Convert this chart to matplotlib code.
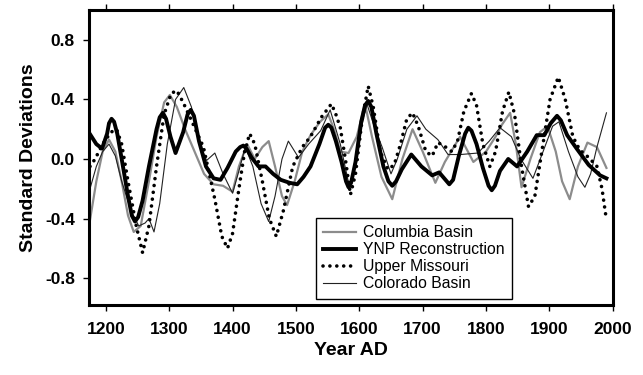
import matplotlib
matplotlib.use("Agg")
import matplotlib.pyplot as plt

plt.rcParams['font.family'] = ['Liberation Sans', 'DejaVu Sans']

# YNP reconstruction (thick black)
ynp_year = [1173, 1185, 1194, 1202, 1205, 1209, 1213, 1218, 1225, 1235, 1241, 1246,
            1251, 1258, 1268, 1280, 1285, 1290, 1295, 1302, 1310, 1322, 1329, 1334,
            1339, 1347, 1358, 1370, 1381, 1392, 1405, 1412, 1417, 1422, 1430, 1441,
            1452, 1464, 1476, 1490, 1502, 1512, 1523, 1537, 1546, 1551, 1556, 1563,
            1572, 1579, 1583, 1587, 1594, 1603, 1609, 1614, 1619, 1627, 1638, 1646,
            1652, 1658, 1667, 1682, 1698, 1715, 1726, 1736, 1742, 1748, 1757, 1767,
            1772, 1777, 1785, 1795, 1804, 1809, 1814, 1822, 1835, 1849, 1865, 1880,
            1892, 1902, 1912, 1918, 1928, 1943, 1962, 1980, 1990]
ynp_val = [0.18, 0.10, 0.07, 0.17, 0.24, 0.27, 0.25, 0.17, 0.00, -0.25, -0.38, -0.42,
           -0.39, -0.28, -0.05, 0.20, 0.28, 0.31, 0.27, 0.15, 0.04, 0.18, 0.30, 0.33,
           0.29, 0.12, -0.05, -0.13, -0.14, -0.06, 0.05, 0.08, 0.09, 0.07, 0.01, -0.05,
           -0.05, -0.10, -0.14, -0.16, -0.17, -0.12, -0.05, 0.10, 0.21, 0.23, 0.21, 0.12,
           -0.02, -0.15, -0.19, -0.16, -0.02, 0.25, 0.36, 0.39, 0.35, 0.17, -0.05, -0.15,
           -0.18, -0.15, -0.07, 0.03, -0.05, -0.11, -0.09, -0.14, -0.17, -0.14, 0.02, 0.17,
           0.21, 0.19, 0.10, -0.06, -0.18, -0.21, -0.18, -0.08, 0.00, -0.05, 0.05, 0.16,
           0.16, 0.24, 0.29, 0.26, 0.16, 0.07, -0.04, -0.11, -0.13]

# Upper Missouri (dotted)
um_year = [1175, 1183, 1195, 1208, 1217, 1225, 1235, 1248, 1258, 1268, 1280, 1292,
           1303, 1312, 1322, 1336, 1354, 1372, 1383, 1392, 1400, 1410, 1419, 1427,
           1435, 1447, 1458, 1469, 1480, 1495, 1510, 1523, 1540, 1556, 1563, 1570,
           1578, 1586, 1594, 1604, 1614, 1622, 1633, 1645, 1655, 1665, 1675, 1684,
           1693, 1705, 1715, 1724, 1733, 1746, 1755, 1765, 1777, 1785, 1795, 1806,
           1815, 1826, 1836, 1845, 1856, 1867, 1877, 1888, 1901, 1914, 1925, 1937,
           1948, 1962, 1975, 1983, 1990]
um_val = [-0.05, 0.00, 0.10, 0.18, 0.20, 0.10, -0.15, -0.45, -0.63, -0.45, -0.05, 0.30,
          0.44, 0.46, 0.38, 0.25, 0.08, -0.27, -0.52, -0.60, -0.50, -0.20, 0.05, 0.17,
          0.10, -0.15, -0.40, -0.52, -0.35, -0.05, 0.08, 0.15, 0.28, 0.37, 0.30, 0.21,
          0.00, -0.24, -0.10, 0.25, 0.49, 0.35, 0.05, -0.07, -0.04, 0.10, 0.27, 0.31,
          0.22, 0.05, 0.02, 0.11, 0.09, 0.05, 0.12, 0.32, 0.44, 0.36, 0.10, -0.05,
          0.05, 0.32, 0.45, 0.30, -0.05, -0.32, -0.25, 0.05, 0.40, 0.55, 0.40, 0.15,
          0.06, 0.01, -0.05, -0.20, -0.41]

# Columbia Basin (grey)
col_year = [1175, 1185, 1195, 1205, 1215, 1225, 1235, 1244, 1255, 1268, 1280, 1292,
            1301, 1312, 1325, 1340, 1355, 1370, 1385, 1400, 1410, 1423, 1435, 1447,
            1457, 1467, 1478, 1486, 1498, 1510, 1523, 1538, 1551, 1560, 1570, 1583,
            1596, 1609, 1620, 1635, 1652, 1668, 1684, 1700, 1720, 1735, 1759, 1780,
            1800, 1815, 1825, 1838, 1847, 1856, 1870, 1885, 1897, 1910, 1920, 1932,
            1945, 1960, 1975, 1990]
col_val = [-0.41, -0.15, 0.05, 0.13, 0.05, -0.15, -0.38, -0.49, -0.45, -0.15, 0.15, 0.38,
           0.43, 0.35, 0.20, 0.05, -0.10, -0.17, -0.18, -0.22, -0.05, 0.10, 0.00, 0.08,
           0.12, -0.05, -0.25, -0.31, -0.15, 0.05, 0.16, 0.25, 0.30, 0.20, 0.05, 0.04,
           0.15, 0.37, 0.15, -0.12, -0.27, 0.00, 0.20, 0.05, -0.16, -0.02, 0.15, -0.02,
           0.05, 0.15, 0.23, 0.31, 0.10, -0.19, 0.00, 0.18, 0.22, 0.05, -0.15, -0.27,
           -0.05, 0.11, 0.08, -0.06]

# Colorado Basin (thin black)
cor_year = [1175, 1185, 1195, 1205, 1215, 1225, 1240, 1252, 1262, 1268, 1276, 1285,
            1297, 1310, 1323, 1335, 1348, 1359, 1372, 1385, 1400, 1410, 1420, 1432,
            1445, 1457, 1467, 1478, 1488, 1504, 1520, 1539, 1554, 1570, 1585, 1600,
            1612, 1625, 1636, 1650, 1660, 1675, 1691, 1705, 1724, 1740, 1760, 1787,
            1805, 1822, 1840, 1855, 1874, 1890, 1905, 1915, 1930, 1945, 1956, 1965,
            1975, 1990]
cor_val = [-0.20, -0.05, 0.05, 0.10, 0.02, -0.15, -0.35, -0.45, -0.43, -0.40, -0.49, -0.30,
           0.10, 0.40, 0.48, 0.35, 0.10, -0.01, 0.04, -0.10, -0.23, -0.08, 0.08, -0.05,
           -0.30, -0.42, -0.25, 0.00, 0.12, 0.01, 0.10, 0.19, 0.33, 0.10, -0.20, 0.15,
           0.37, 0.20, 0.08, -0.10, 0.00, 0.20, 0.29, 0.20, 0.13, 0.03, 0.03, 0.04,
           0.12, 0.21, 0.15, 0.00, -0.13, 0.05, 0.22, 0.25, 0.05, -0.12, -0.19, -0.10,
           0.08, 0.31]

y_ticks = [-0.8, -0.4, 0.0, 0.4, 0.8]
x_ticks = [1200, 1300, 1400, 1500, 1600, 1700, 1800, 1900, 2000]

fig = plt.figure(figsize=(6.43, 3.75), dpi=100)
ax = fig.add_axes([0.138, 0.187, 0.815, 0.786])

l_col, = ax.plot(col_year, col_val, color='#8c8c8c', lw=1.6)
l_cor, = ax.plot(cor_year, cor_val, color='#222222', lw=0.8)
l_um, = ax.plot(um_year, um_val, color='black', lw=2.6, linestyle=(0, (0.01, 1.9)),
                dash_capstyle='round')
l_ynp, = ax.plot(ynp_year, ynp_val, color='black', lw=2.8)

ax.set_xlim(1173, 2000)
ax.set_ylim(-0.98, 1.0)
ax.set_xticks(x_ticks)
ax.set_yticks(y_ticks)
ax.set_yticklabels([f"{v:.1f}" for v in y_ticks])
for s in ax.spines.values():
    s.set_linewidth(2.2)
ax.tick_params(axis='x', top=True, direction='out', length=4, width=1, labelsize=12.5, pad=8)
ax.tick_params(axis='y', direction='out', length=4, width=1, labelsize=12.5, pad=6)
for lab in ax.get_xticklabels() + ax.get_yticklabels():
    lab.set_fontweight('bold')

ax.set_xlabel('Year AD', fontsize=14, fontweight='bold', labelpad=4)
ax.set_ylabel('Standard Deviations', fontsize=14, fontweight='bold', labelpad=6)

leg = ax.legend([l_col, l_ynp, l_um, l_cor],
                ['Columbia Basin', 'YNP Reconstruction', 'Upper Missouri', 'Colorado Basin'],
                loc='lower left', bbox_to_anchor=(0.433, 0.02), borderaxespad=0,
                fancybox=False, edgecolor='black', fontsize=11.3, handlelength=2.1,
                labelspacing=0.12, handletextpad=0.4, borderpad=0.5, framealpha=1)
leg.get_frame().set_linewidth(1.0)

fig.savefig('out.png', dpi=100)
